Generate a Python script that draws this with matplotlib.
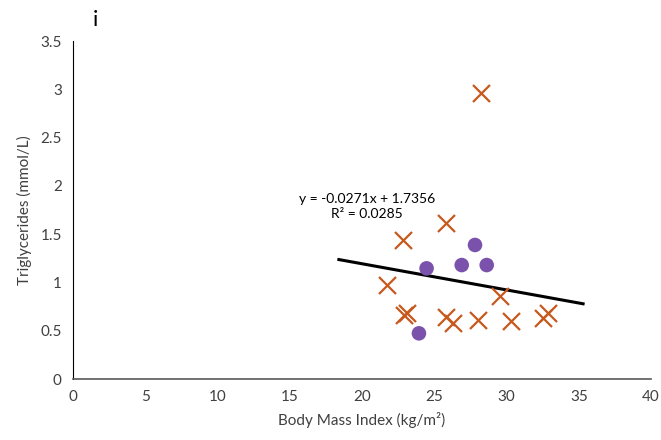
import numpy as np
import matplotlib
matplotlib.use("Agg")
from matplotlib import pyplot as plt

plt.rcParams['font.family'] = ['Lato', 'DejaVu Sans']

# podaci očitani sa slike
bmi_x = [28.24, 25.81, 22.82, 21.71, 22.91, 23.11, 25.81, 26.28, 28.05, 29.55, 30.29, 32.5, 32.89]
tg_x = [2.96, 1.62, 1.44, 0.97, 0.66, 0.68, 0.645, 0.58, 0.61, 0.86, 0.60, 0.63, 0.687]

bmi_o = [24.47, 27.82, 26.9, 28.63, 23.94]
tg_o = [1.146, 1.388, 1.18, 1.18, 0.473]

# trend linija
slope = -0.0271
intercept = 1.7356
trend_x = [18.4, 35.3]

x_ticks = [0, 5, 10, 15, 20, 25, 30, 35, 40]
y_ticks = [0, 0.5, 1, 1.5, 2, 2.5, 3, 3.5]

fig = plt.figure(figsize=(6.61, 4.40), dpi=100)
ax = fig.add_axes([0.1104, 0.1386, 0.8745, 0.7682])

tx = np.array(trend_x)
ax.plot(tx, slope * tx + intercept, color="black", lw=2.2, zorder=2)

ax.scatter(bmi_x, tg_x, marker="x", s=150, color="#C65A1E", linewidths=1.6, zorder=3)
ax.scatter(bmi_o, tg_o, marker="o", s=110, color="#7B52AB", edgecolors="none", zorder=3)

ax.set_xlim(0, 40)
ax.set_ylim(0, 3.5)
ax.set_xticks(x_ticks)
ax.set_yticks(y_ticks)
ax.set_xticklabels([str(t) for t in x_ticks])
ax.set_yticklabels(["0", "0.5", "1", "1.5", "2", "2.5", "3", "3.5"])
ax.tick_params(length=0, labelsize=11, colors="#404040", pad=8)

for s in ["top", "right"]:
    ax.spines[s].set_visible(False)
ax.spines["left"].set_color("black")
ax.spines["bottom"].set_color("#595959")
ax.spines["bottom"].set_linewidth(1.2)

ax.set_xlabel("Body Mass Index (kg/m²)", fontsize=11, color="#404040", labelpad=6)
ax.set_ylabel("Triglycerides (mmol/L)", fontsize=11, color="#404040", labelpad=6)

ax.text(20.35, 1.79, "y = -0.0271x + 1.7356\nR² = 0.0285", ha="center", va="center",
        fontsize=10, color="black", linespacing=1.3, multialignment="center")

fig.text(95 / 661, 1 - 20 / 440, "i", fontsize=16, ha="center", va="center")

fig.savefig("out.png", dpi=100)
